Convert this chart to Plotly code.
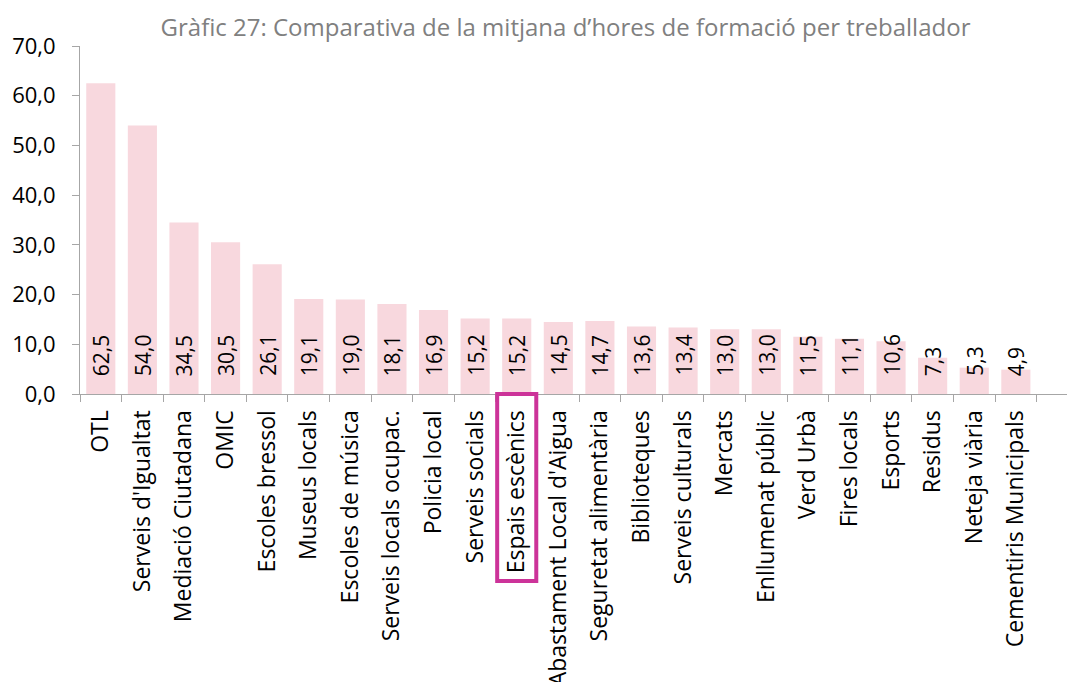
import plotly.graph_objects as go

categories = [
    "OTL", "Serveis d'Igualtat", "Mediació Ciutadana", "OMIC", "Escoles bressol",
    "Museus locals", "Escoles de música", "Serveis locals ocupac.", "Policia local",
    "Serveis socials", "Espais escènics", "Abastament Local d'Aigua",
    "Seguretat alimentària", "Biblioteques", "Serveis culturals", "Mercats",
    "Enllumenat públic", "Verd Urbà", "Fires locals", "Esports", "Residus",
    "Neteja viària", "Cementiris Municipals",
]
hours = [62.5, 54.0, 34.5, 30.5, 26.1, 19.1, 19.0, 18.1, 16.9, 15.2, 15.2, 14.5,
         14.7, 13.6, 13.4, 13.0, 13.0, 11.5, 11.1, 10.6, 7.3, 5.3, 4.9]
y_ticks = [0, 10, 20, 30, 40, 50, 60, 70]
highlight = "Espais escènics"

FONT = "Open Sans"
AXIS_GREY = "#a6a6a6"

fig = go.Figure(
    go.Bar(
        x=categories,
        y=hours,
        marker=dict(color="#f8d8de", line=dict(width=0)),
        width=0.70,
        hoverinfo="x+y",
    )
)

# value labels, rotated and anchored at the base of each bar
for cat, val in zip(categories, hours):
    fig.add_annotation(
        x=cat, y=0, xref="x", yref="y",
        text=f"{val:.1f}".replace(".", ","),
        textangle=-90,
        showarrow=False,
        yanchor="bottom", xanchor="center",
        yshift=16,
        font=dict(family=FONT, size=21, color="#000000"),
    )

# frame around the highlighted category label
idx = categories.index(highlight)
fig.add_shape(
    type="rect", xref="x", yref="paper",
    x0=idx - 0.47, x1=idx + 0.47, y0=0.0, y1=-0.537,
    line=dict(color="#cc3399", width=4),
)

fig.update_layout(
    width=1067, height=682,
    margin=dict(l=80, r=0, t=46, b=288),
    paper_bgcolor="white", plot_bgcolor="white",
    separators=", ",
    showlegend=False,
    title=dict(
        text="Gràfic 27: Comparativa de la mitjana d’hores de formació per treballador",
        x=0.53, xref="container", xanchor="center",
        y=0.96, yref="container", yanchor="middle",
        font=dict(family=FONT, size=24, color="#808080"),
    ),
    font=dict(family=FONT, size=22, color="#000000"),
)

fig.update_xaxes(
    type="category",
    range=[-0.5, 23.23],
    tickangle=-90,
    tickson="boundaries",
    ticks="outside", ticklen=7, tickcolor=AXIS_GREY, tickwidth=1,
    showline=True, linecolor=AXIS_GREY, linewidth=1,
    showgrid=False,
    ticklabelstandoff=6,
    tickfont=dict(family=FONT, size=23, color="#000000"),
    automargin=False,
)
fig.update_yaxes(
    range=[0, 70],
    tickvals=y_ticks,
    tickformat=".1f",
    ticks="outside", ticklen=7, tickcolor=AXIS_GREY, tickwidth=1,
    showline=True, linecolor=AXIS_GREY, linewidth=1,
    showgrid=False, zeroline=False,
    ticklabelstandoff=12,
    tickfont=dict(family=FONT, size=22, color="#000000"),
    automargin=False,
)

fig.write_html("out.html")
